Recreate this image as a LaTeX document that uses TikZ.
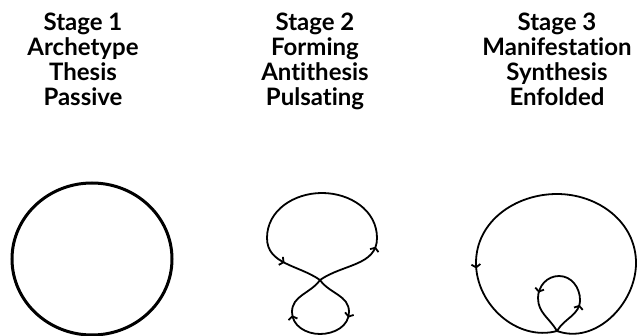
\documentclass[tikz,border=0pt]{standalone}
\usepackage{fontspec}
\setmainfont{Lato}[Ligatures={NoCommon}]
\usetikzlibrary{arrows.meta,decorations.markings}

\begin{document}
\begin{tikzpicture}[x=1pt,y=1pt,>={Straight Barb[length=3pt,width=9pt]},
  stagetext/.style={align=center,anchor=north,inner sep=0pt,
    font=\fontsize{24}{25}\selectfont\bfseries},
  plainloop/.style={line width=3pt},
  handloop/.style={line width=1.8pt,line join=round}]

\useasboundingbox (0,0) rectangle (639,-336);

% The captions
\node[stagetext] (stage1) at (83,-13) {Stage 1\\Archetype\\Thesis\\Passive};
\node[stagetext] (stage2) at (315,-13) {Stage 2\\Forming\\Antithesis\\Pulsating};
\node[stagetext] (stage3) at (557,-13) {Stage 3\\Manifestation\\Synthesis\\Enfolded};

% The passive circle
\draw[plainloop] (92,-259) ellipse [x radius=80,y radius=76];

% The pulsating figure eight
\coordinate (cross2) at (320,-280);
\draw[handloop,postaction={decorate,decoration={markings,
    mark=at position 0.14 with {\arrow{>}},
    mark=at position 0.56 with {\arrow{>}},
    mark=at position 0.75 with {\arrow{>}},
    mark=at position 0.90 with {\arrow{>}}}}]
  (cross2) to[out=35,in=-90] (377,-238) to[out=90,in=0] (322,-193)
  to[out=180,in=90] (267,-238) to[out=-90,in=145] (cross2)
  to[out=-55,in=90] (349,-312) to[out=-90,in=0] (320,-334)
  to[out=180,in=-90] (292,-312) to[out=90,in=-125] (cross2);

% The enfolded loop
\coordinate (cross3) at (557,-331);
\draw[handloop,postaction={decorate,decoration={markings,
    mark=at position 0.056 with {\arrow{>}},
    mark=at position 0.166 with {\arrow{>}},
    mark=at position 0.815 with {\arrow{>}}}}]
  (cross3) to[out=60,in=-90] (580,-300) to[out=90,in=0] (559,-276)
  to[out=180,in=90] (538,-298) to[out=-90,in=120] (cross3)
  to[out=-20,in=-90] (636,-263) to[out=90,in=0] (557,-194)
  to[out=180,in=90] (476,-263) to[out=-90,in=195] (cross3);

\end{tikzpicture}
\end{document}
